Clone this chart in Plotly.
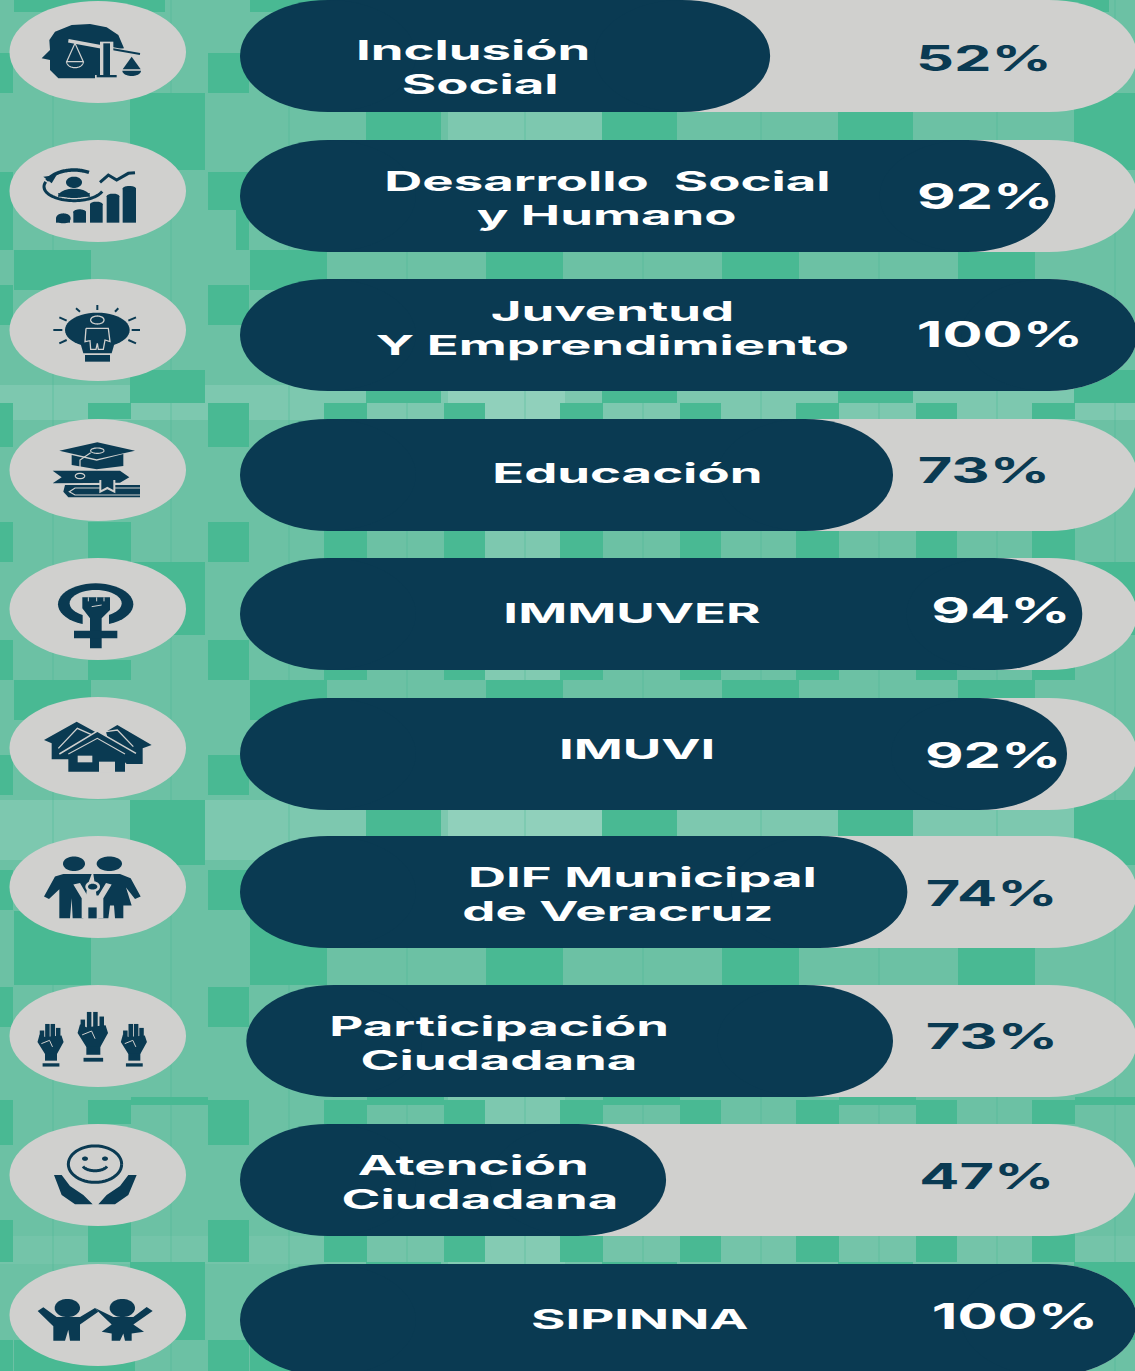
import math
import plotly.graph_objects as go

# ---------- data ----------
categories = ["Inclusión Social", "Desarrollo  Social y Humano", "Juventud Y Emprendimiento", "Educación",
              "IMMUVER", "IMUVI", "DIF Municipal de Veracruz", "Participación Ciudadana",
              "Atención Ciudadana", "SIPINNA"]
percent_labels = ["52%", "92%", "100%", "73%", "94%", "92%", "74%", "73%", "47%", "100%"]
bar_fill = [59.1, 90.9, 100, 72.8, 93.9, 92.2, 74.4, 72.8, 47.5, 100]   # drawn length
track_end = [100] * 10
bar_start = [0, 0, 0, 0, 0, 0, 0, 0.7, 0, 0]

# ---------- layout constants ----------
W, H = 1135, 1371
row_y = [56, 196, 335, 475, 614, 754, 892, 1041, 1180, 1320]
circle_y = [52, 191, 330, 470, 609, 748, 887, 1036, 1175, 1315]
BAR_H = 112
RX = 9.8
PX = 8.97
X0 = 240
DARK, GREY, TILE_D, TILE_L = "#0A3A52", "#D0D0CE", "#49B993", "#6CC1A4"

label_lines = [("Inclusión", 473, 50), ("Social", 480, 84),
               ("Desarrollo  Social", 607, 181), ("y Humano", 606, 215),
               ("Juventud", 612, 311), ("Y Emprendimiento", 612, 345),
               ("Educación", 627, 473), ("IMMUVER", 632, 613), ("IMUVI", 637, 749),
               ("DIF Municipal", 642, 877), ("de Veracruz", 618, 911),
               ("Participación", 499, 1026), ("Ciudadana", 499, 1060),
               ("Atención", 473, 1165), ("Ciudadana", 480, 1199), ("SIPINNA", 640, 1319)]
pct_pos = [(984, 58), (985, 196), (1000, 334), (984, 470), (1001, 610),
           (993, 755), (992, 893), (992, 1036), (987, 1176), (1015, 1316)]
pct_col = [DARK, "white", "white", DARK, "white", "white", DARK, DARK, DARK, "white"]

# background tiles: repeat horizontally every 236 px
tiles_dark = [
    (130, 205, 93, 170), (130, 205, 370, 403), (130, 205, 562, 635), (130, 205, 800, 865), (130, 205, 1262, 1340),
    (131, 208, 1097, 1105),
    (88, 131, 403, 419), (88, 131, 522, 562), (88, 131, 660, 680), (88, 131, 1100, 1124), (88, 131, 1220, 1262),
    (208, 249, 53, 93), (208, 249, 172, 210), (236, 249, 210, 250), (208, 249, 285, 325), (208, 249, 403, 447),
    (208, 249, 522, 562), (208, 249, 640, 680), (208, 249, 755, 795), (208, 249, 870, 910), (208, 249, 987, 1027),
    (208, 249, 1100, 1145), (208, 249, 1220, 1262), (208, 249, 1340, 1371),
    (14, 91, 250, 290), (14, 91, 680, 720), (14, 91, 911, 985), (14, 135, 1340, 1371), (14, 165, 0, 12),
]
light_bands = [(0, W, 385, 420, .12), (0, W, 800, 860, .12), (0, W, 1236, 1264, .06),
               (448, 602, 112, 140, .12), (448, 565, 391, 419, .15), (448, 565, 530, 558, .12),
               (448, 565, 665, 680, .15), (448, 602, 810, 836, .15), (448, 565, 1097, 1124, .12),
               (448, 565, 1236, 1264, .12)]
tile_lines = [52, 170]


def shape(kind, **kw):
    return dict(type=kind, line=dict(width=0), **kw)


shapes = []
shapes.append(shape("rect", xref="x2", yref="y", x0=0, x1=W, y0=0, y1=H, fillcolor=TILE_L, layer="below"))
for x0, x1, y0, y1, op in light_bands:
    shapes.append(shape("rect", xref="x2", yref="y", x0=x0, x1=x1, y0=y0, y1=y1, fillcolor="white", opacity=op, layer="below"))
for lx in tile_lines:
    for k in range(0, 5):
        shapes.append(shape("rect", xref="x2", yref="y", x0=lx + 236 * k, x1=lx + 2 + 236 * k, y0=0, y1=H,
                            fillcolor=TILE_D, opacity=.25, layer="below"))
for x0, x1, y0, y1 in tiles_dark:
    for k in range(-1, 5):
        a, b = x0 + 236 * k, x1 + 236 * k
        if b > 0 and a < W:
            shapes.append(shape("rect", xref="x2", yref="y", x0=a, x1=b, y0=y0, y1=y1, fillcolor=TILE_D, layer="below"))

# icon circles
for cy in circle_y:
    shapes.append(shape("circle", xref="x2", yref="y", x0=9.5, x1=186, y0=cy - 51, y1=cy + 51, fillcolor=GREY, layer="below"))

# bar end caps: derived from the bar values
for i, cy in enumerate(row_y):
    shapes.append(shape("circle", xref="x", yref="y", x0=track_end[i] - 2 * RX, x1=track_end[i],
                        y0=cy - BAR_H / 2, y1=cy + BAR_H / 2, fillcolor=GREY, layer="below"))
    shapes.append(shape("circle", xref="x", yref="y", x0=bar_fill[i] - 2 * RX, x1=bar_fill[i],
                        y0=cy - BAR_H / 2, y1=cy + BAR_H / 2, fillcolor=DARK, layer="above"))
    shapes.append(shape("circle", xref="x", yref="y", x0=bar_start[i], x1=bar_start[i] + 2 * RX,
                        y0=cy - BAR_H / 2, y1=cy + BAR_H / 2, fillcolor=DARK, layer="above"))


# ---------- icon helpers (coordinates in zoomed crop units) ----------
def to_px(pts, off, ys):
    return [(x / 3, y / ys + off) for x, y in pts]


def path(pts, close=True):
    d = "M" + " L".join(f"{x:.2f},{y:.2f}" for x, y in pts)
    return d + (" Z" if close else "")


def ell(cx, cy, rx, ry, a0=0, a1=360, n=48):
    return [(cx + rx * math.cos(math.radians(a0 + (a1 - a0) * t / n)),
             cy + ry * math.sin(math.radians(a0 + (a1 - a0) * t / n))) for t in range(n + 1)]


def F(col, pts):
    return ("f", col, pts)


def L(col, w, pts):
    return ("l", col, w, pts)


def R(col, x0, y0, x1, y1):
    return F(col, [(x0, y0), (x1, y0), (x1, y1), (x0, y1)])


def draw(items, off=0, ys=3):
    for it in items:
        if it[0] == "f":
            shapes.append(dict(type="path", xref="x2", yref="y", path=path(to_px(it[2], off, ys)),
                               fillcolor=it[1], line=dict(width=0), layer="below"))
        else:
            shapes.append(dict(type="path", xref="x2", yref="y", path=path(to_px(it[3], off, ys), False),
                               line=dict(color=it[1], width=it[2]), layer="below"))


# scales + head
draw([
    F(DARK, [(125, 175), (150, 150), (148, 120), (165, 95), (215, 75), (270, 72), (320, 82), (355, 105), (372, 145),
             (335, 150), (335, 225), (285, 225), (285, 235), (175, 235), (150, 210), (150, 180)]),
    L(GREY, 3.5, [(205, 122), (420, 162)]), L(DARK, 2, [(335, 147), (420, 162)]),
    L(GREY, 1.2, [(225, 130), (200, 185), (250, 185), (225, 130)]),
    L(GREY, 1.2, ell(225, 185, 25, 18, 0, 180)),
    R(GREY, 300, 125, 340, 225), R(DARK, 310, 130, 330, 225), R(DARK, 290, 225, 350, 232),
    F(DARK, [(395, 170), (368, 208), (422, 208)]), F(DARK, ell(395, 212, 28, 16, 0, 180)),
])
# growth
draw([
    F(DARK, ell(190, 655, 22, 15)), R(DARK, 168, 655, 210, 668), R(DARK, 220, 635, 258, 668), R(DARK, 270, 612, 308, 668),
    R(DARK, 320, 588, 358, 668), R(DARK, 368, 565, 408, 668),
    F(DARK, ell(239, 636, 19, 8)), F(DARK, ell(289, 613, 19, 8)), F(DARK, ell(339, 589, 19, 8)), F(DARK, ell(388, 566, 20, 8)),
    L(DARK, 3, [(300, 547), (325, 525), (350, 540), (385, 520), (405, 518)]),
    F(DARK, ell(222, 547, 24, 17)), F(DARK, ell(222, 590, 48, 24, 180, 360)), F(DARK, ell(222, 580, 48, 14, 0, 180)),
    L(DARK, 3.5, ell(222, 565, 90, 55, 205, 300)), L(DARK, 3, ell(222, 560, 90, 42, 20, 200)),
    F(DARK, [(130, 530), (170, 525), (155, 550)]),
])
# bulb
rays = [((292, 915), (292, 930)), ((228, 925), (240, 935)), ((355, 925), (345, 935)), ((178, 952), (200, 962)),
        ((408, 952), (385, 962)), ((160, 990), (187, 990)), ((395, 990), (420, 990)), ((178, 1030), (200, 1020)),
        ((408, 1030), (385, 1020))]
draw([F(DARK, ell(292, 990, 97, 52)), F(DARK, [(240, 1025), (345, 1025), (335, 1060), (250, 1060)]),
      R(DARK, 255, 1065, 330, 1085)] + [L(DARK, 2, list(r)) for r in rays] + [
    L(GREY, 1.3, ell(292, 960, 20, 12)),
    L(GREY, 1.3, [(258, 985), (325, 985), (330, 1025), (315, 1020), (310, 1048), (295, 1048), (292, 1030), (288, 1048),
                  (272, 1048), (270, 1022), (255, 1025), (258, 985)])])
# education
draw([
    F(DARK, [(215, 165), (290, 182), (370, 162), (370, 198), (290, 208), (215, 195)]),
    F(DARK, [(178, 152), (292, 127), (405, 152), (290, 178)]),
    L(GREY, 1.2, ell(292, 152, 20, 8)), L(GREY, 1.2, [(240, 228), (240, 180), (272, 158)]),
    F(DARK, [(158, 212), (360, 212), (388, 232), (360, 248), (158, 250), (185, 232)]),
    F(DARK, [(195, 255), (420, 255), (420, 292), (205, 292), (190, 275)]),
    L(GREY, 1.2, [(420, 264), (225, 264), (208, 275), (225, 285), (420, 285)]),
    F(GREY, [(298, 240), (346, 240), (346, 280), (322, 268), (298, 280)]),
    F(DARK, [(304, 240), (340, 240), (340, 270), (322, 260), (304, 270)]),
    L(GREY, 1.2, ell(240, 228, 14, 8)),
], off=400)
# women's symbol
draw([
    F(DARK, ell(287, 613, 113, 63)), F(GREY, ell(287, 610, 78, 40)),
    R(GREY, 248, 635, 327, 680),
    F(DARK, [(247, 592), (330, 592), (330, 630), (305, 655), (305, 745), (270, 745), (270, 655), (247, 625)]),
    R(DARK, 222, 692, 352, 715), L(GREY, 1, [(265, 592), (265, 604)]), L(GREY, 1, [(290, 592), (290, 604)]),
    L(GREY, 1, [(312, 592), (312, 604)]), L(GREY, 1, [(275, 620), (305, 615)]),
], off=400)
# houses
draw([
    F(DARK, [(132, 1020), (230, 965), (330, 1020), (330, 1078), (155, 1078), (155, 1030)]),
    F(DARK, [(318, 995), (352, 975), (455, 1035), (428, 1045), (428, 1092), (380, 1092), (330, 1040)]),
    L(GREY, 1.3, [(175, 1045), (232, 985), (300, 1015)]),
    L(GREY, 1.3, [(318, 995), (352, 990), (400, 1040)]),
    F(DARK, [(178, 1062), (292, 993), (408, 1060), (375, 1068), (375, 1115), (205, 1115), (205, 1068)]),
    L(GREY, 1.5, [(178, 1062), (292, 993), (408, 1060)]),
    L(GREY, 1.2, [(205, 1062), (292, 1015), (375, 1062)]),
    R(GREY, 297, 1085, 345, 1118), R(GREY, 233, 1067, 277, 1087),
], off=400)
# family
draw([
    F(DARK, ell(222, 175, 33, 20)), F(DARK, ell(328, 175, 38, 20)),
    F(DARK, [(132, 265), (165, 210), (190, 203), (275, 203), (262, 235), (250, 325), (218, 325), (215, 270), (210, 325),
             (178, 325), (178, 245), (147, 272)]),
    F(DARK, [(280, 203), (360, 203), (392, 215), (422, 265), (405, 272), (378, 240), (395, 290), (370, 290), (370, 325),
             (345, 325), (342, 290), (330, 290), (325, 325), (295, 325), (290, 265)]),
    F(GREY, [(220, 232), (240, 228), (262, 262), (295, 262), (318, 228), (335, 232), (310, 270), (310, 325), (245, 325), (245, 270)]),
    F(GREY, ell(278, 238, 22, 15)), R(DARK, 265, 295, 290, 325), F(DARK, ell(278, 238, 14, 8)),
], off=800, ys=2.746)


# raised hands
def hand(cx, top, s=1.0):
    fing = [(-30, 20), (-12, 0), (6, 0), (24, 12)]
    items = []
    for fx, fy in fing:
        items.append(L(DARK, 4.5, [(cx + fx * s, top + fy * s), (cx + fx * s, top + 50 * s)]))
    items.append(F(DARK, [(cx - 38 * s, top + 32 * s), (cx - 20 * s, top + 40 * s), (cx + 35 * s, top + 35 * s),
                          (cx + 42 * s, top + 55 * s), (cx + 20 * s, top + 92 * s), (cx - 20 * s, top + 92 * s), (cx - 45 * s, top + 55 * s)]))
    items.append(L(GREY, 1, [(cx - 32 * s, top + 60 * s), (cx - 5 * s, top + 50 * s), (cx + 5 * s, top + 70 * s)]))
    items.append(R(DARK, cx - 20 * s, top + 90 * s, cx + 20 * s, top + 112 * s))
    items.append(R(DARK, cx - 28 * s, top + 120 * s, cx + 28 * s, top + 130 * s))
    return items


draw(hand(153, 615, .9) + hand(280, 582, 1.05) + hand(403, 615, .9), off=800, ys=2.746)
# smile + hands
draw([
    L(DARK, 3, ell(285, 1000, 80, 50)), F(DARK, ell(255, 985, 9, 6)), F(DARK, ell(315, 985, 9, 6)),
    L(DARK, 3, ell(285, 1000, 38, 18, 20, 160)),
    F(DARK, [(162, 1030), (185, 1030), (210, 1060), (250, 1085), (278, 1110), (225, 1110), (185, 1085)]),
    F(DARK, [(410, 1030), (385, 1030), (360, 1060), (320, 1085), (295, 1110), (345, 1110), (385, 1085)]),
], off=800, ys=2.746)
# two children
draw([
    F(DARK, ell(202, 1395, 38, 25)), F(DARK, ell(367, 1395, 38, 25)),
    F(DARK, [(113, 1403), (130, 1393), (170, 1420), (240, 1420), (285, 1395), (295, 1405), (240, 1440), (240, 1485),
             (210, 1485), (205, 1455), (195, 1485), (160, 1485), (160, 1445)]),
    F(DARK, [(285, 1395), (340, 1420), (400, 1420), (440, 1392), (458, 1403), (400, 1440), (432, 1460), (395, 1465),
             (395, 1485), (375, 1485), (370, 1465), (360, 1485), (335, 1485), (335, 1465), (305, 1460), (335, 1440), (295, 1405)]),
], off=800, ys=2.746)

# ---------- traces ----------
fig = go.Figure()
fig.add_trace(go.Bar(y=row_y, x=[t - s - 2 * RX for t, s in zip(track_end, bar_start)], base=[s + RX for s in bar_start],
                     orientation="h", width=BAR_H, marker=dict(color=GREY, line=dict(width=0)),
                     hoverinfo="skip", name="Meta"))
fig.add_trace(go.Bar(y=row_y, x=[f - s - 2 * RX + .1 for f, s in zip(bar_fill, bar_start)],
                     base=[s + RX - .05 for s in bar_start], orientation="h", width=BAR_H,
                     marker=dict(color=DARK, line=dict(width=0)), customdata=categories,
                     hoverinfo="skip", name="Avance"))
fig.add_trace(go.Scatter(x=[], y=[], xaxis="x2", yaxis="y", showlegend=False))

annots = []
for txt, x, y in label_lines:
    annots.append(dict(text=txt, x=x, y=y, xref="x2", yref="y", showarrow=False, xanchor="center", yanchor="middle",
                       font=dict(family="Inter", size=27, color="white", weight=700)))
for txt, (x, y), c in zip(percent_labels, pct_pos, pct_col):
    annots.append(dict(text=txt, x=x, y=y, xref="x2", yref="y", showarrow=False, xanchor="center", yanchor="middle",
                       font=dict(family="Inter", size=35, color=c, weight=700)))

fig.update_layout(
    width=W, height=H, margin=dict(l=0, r=0, t=0, b=0), showlegend=False, barmode="overlay",
    paper_bgcolor=TILE_L, plot_bgcolor=TILE_L, shapes=shapes, annotations=annots,
    xaxis=dict(range=[(0 - X0) / PX, (W - X0) / PX], visible=False, fixedrange=True),
    xaxis2=dict(range=[0, W], visible=False, overlaying="x", fixedrange=True),
    yaxis=dict(range=[H, 0], visible=False, fixedrange=True),
)

post = """
document.body.style.margin='0';
document.body.style.overflow='hidden';
document.querySelectorAll('.annotation-text').forEach(function(t){
  t.style.transformBox='fill-box'; t.style.transformOrigin='center';
  t.style.transform='scaleX('+(t.textContent.indexOf('%')>=0?1.7:1.95)+')';
});
"""
fig.write_html("out.html", post_script=post, config=dict(displayModeBar=False))
